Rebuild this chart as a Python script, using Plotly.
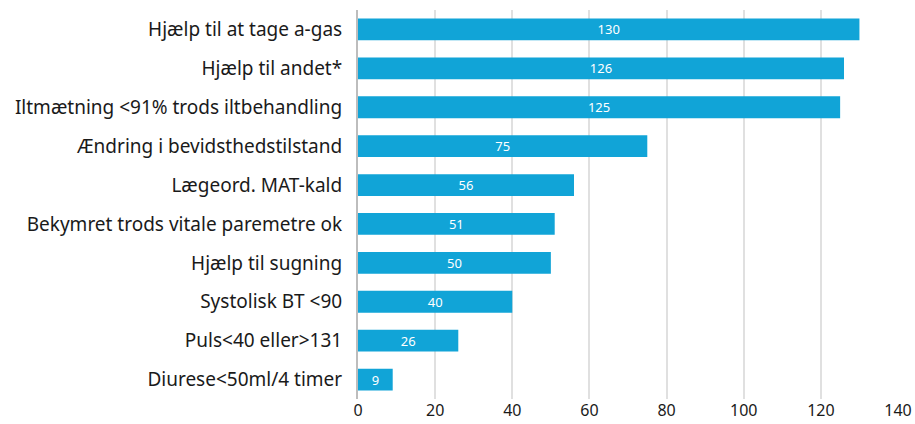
import plotly.graph_objects as go

categories = [
    "Hjælp til at tage a-gas",
    "Hjælp til andet*",
    "Iltmætning <91% trods iltbehandling",
    "Ændring i bevidsthedstilstand",
    "Lægeord. MAT-kald",
    "Bekymret trods vitale paremetre ok",
    "Hjælp til sugning",
    "Systolisk BT <90",
    "Puls<40 eller>131",
    "Diurese<50ml/4 timer",
]
values = [130, 126, 125, 75, 56, 51, 50, 40, 26, 9]
x_ticks = [0, 20, 40, 60, 80, 100, 120, 140]

font_family = "Noto Sans, sans-serif"

fig = go.Figure(
    go.Bar(
        y=categories,
        x=values,
        orientation="h",
        marker=dict(color="#11a4d7", line=dict(width=0)),
        text=[str(v) for v in values],
        textposition="inside",
        insidetextanchor="middle",
        textangle=0,
        textfont=dict(color="white", size=13, family=font_family),
        width=0.56,
    )
)

fig.update_layout(
    width=915,
    height=424,
    margin=dict(l=358, r=17, t=9.5, b=24.5, autoexpand=False),
    paper_bgcolor="white",
    plot_bgcolor="white",
    showlegend=False,
    font=dict(family=font_family, color="#1a1a1a", size=17),
    bargap=0.44,
    uniformtext=dict(mode="show", minsize=13),
)
fig.update_xaxes(
    range=[0, 140],
    tickvals=x_ticks,
    showgrid=True,
    gridcolor="#e0e0e0",
    gridwidth=1.5,
    zeroline=False,
    showline=False,
    ticks="",
    tickfont=dict(size=16),
    automargin=False,
    fixedrange=True,
)
fig.update_yaxes(
    autorange="reversed",
    showline=True,
    linecolor="#bdbdbd",
    linewidth=2,
    ticks="",
    ticklabelstandoff=10,
    tickfont=dict(size=19),
    automargin=False,
    fixedrange=True,
)

fig.write_html("out.html")
